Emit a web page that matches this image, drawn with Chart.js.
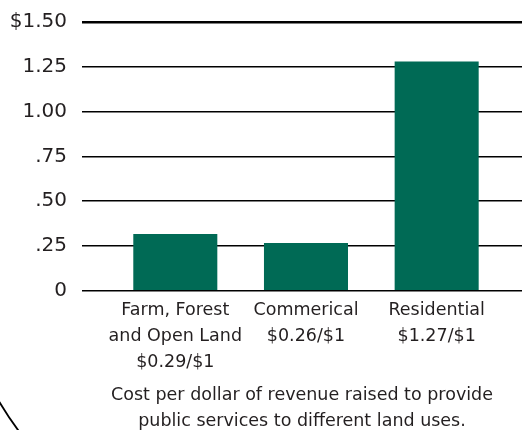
<!DOCTYPE html>
<html>
<head>
<meta charset="utf-8">
<script src="https://cdn.jsdelivr.net/npm/chart.js@4/dist/chart.umd.min.js"></script>
<style>
  html, body { margin: 0; padding: 0; background: #fff; }
  #wrap { width: 522px; height: 430px; }
</style>
</head>
<body>
<div id="wrap"><canvas id="landUseChart"></canvas></div>
<script>
// Cost of community services by land use

const categories = [
  ["Farm, Forest", "and Open Land", "$0.29/$1"],
  ["Commerical", "$0.26/$1"],
  ["Residential", "$1.27/$1"],
]
const categoryPos = [1, 2, 3]
const costPerDollar = [0.317, 0.267, 1.28]
const yTickValues = [0, 0.25, 0.5, 0.75, 1, 1.25, 1.5]
const yTickLabels = ["0", ".25", ".50", ".75", "1.00", "1.25", "$1.50"]
const caption = ["Cost per dollar of revenue raised to provide", "public services to different land uses."]

const barColor = "#006a55"
const textColor = "#231f20"
const fontFamily = "'DejaVu Sans', sans-serif"

// piece of the big circle that shows in the lower-left corner of the original
const cornerArc = {
  id: "cornerArc",
  afterDraw(chart) {
    const ctx = chart.ctx
    ctx.save()
    ctx.strokeStyle = "#000"
    ctx.lineWidth = 1.8
    ctx.beginPath()
    ctx.arc(284, 233, 331, 2.45, 2.7)
    ctx.stroke()
    ctx.restore()
  },
}

const ctx = document.getElementById("landUseChart")

new Chart(ctx, {
  type: "bar",
  data: {
    datasets: [
      {
        data: categoryPos.map((x, i) => ({ x: x, y: costPerDollar[i] })),
        backgroundColor: barColor,
        borderWidth: 0,
        categoryPercentage: 1,
        barPercentage: 0.643,
      },
    ],
  },
  options: {
    responsive: true,
    maintainAspectRatio: false,
    animation: false,
    layout: {
      padding: { top: 0, right: 0, bottom: 0, left: 0 },
    },
    plugins: {
      legend: { display: false },
      tooltip: { enabled: false },
    },
    scales: {
      x: {
        type: "linear",
        offset: false,
        min: 0.286,
        max: 3.653,
        grid: { display: false, drawTicks: false },
        border: { display: false },
        afterBuildTicks: (scale) => {
          scale.ticks = categoryPos.map((v) => ({ value: v }))
        },
        ticks: {
          autoSkip: false,
          maxRotation: 0,
          padding: 6,
          color: textColor,
          font: { family: fontFamily, size: 17.5, lineHeight: 1.51 },
          callback: (value) => categories[categoryPos.indexOf(value)],
        },
        title: {
          display: true,
          text: caption,
          color: textColor,
          padding: { top: 0, bottom: -5 },
          font: { family: fontFamily, size: 17.5, lineHeight: 1.51 },
        },
      },
      y: {
        min: 0,
        max: 1.5,
        afterBuildTicks: (scale) => {
          scale.ticks = yTickValues.map((v) => ({ value: v }))
        },
        afterFit: (scale) => {
          scale.width = 82
          scale.paddingTop = 22
          scale.paddingBottom = 0
        },
        border: { display: false },
        grid: {
          color: "#000",
          drawTicks: false,
          lineWidth: (c) => (c.tick && c.tick.value === 1.5 ? 2.5 : 1.6),
        },
        ticks: {
          padding: 15,
          color: textColor,
          font: { family: fontFamily, size: 20 },
          callback: (value) => yTickLabels[yTickValues.indexOf(value)],
        },
      },
    },
  },
  plugins: [cornerArc],
})
</script>
</body>
</html>
